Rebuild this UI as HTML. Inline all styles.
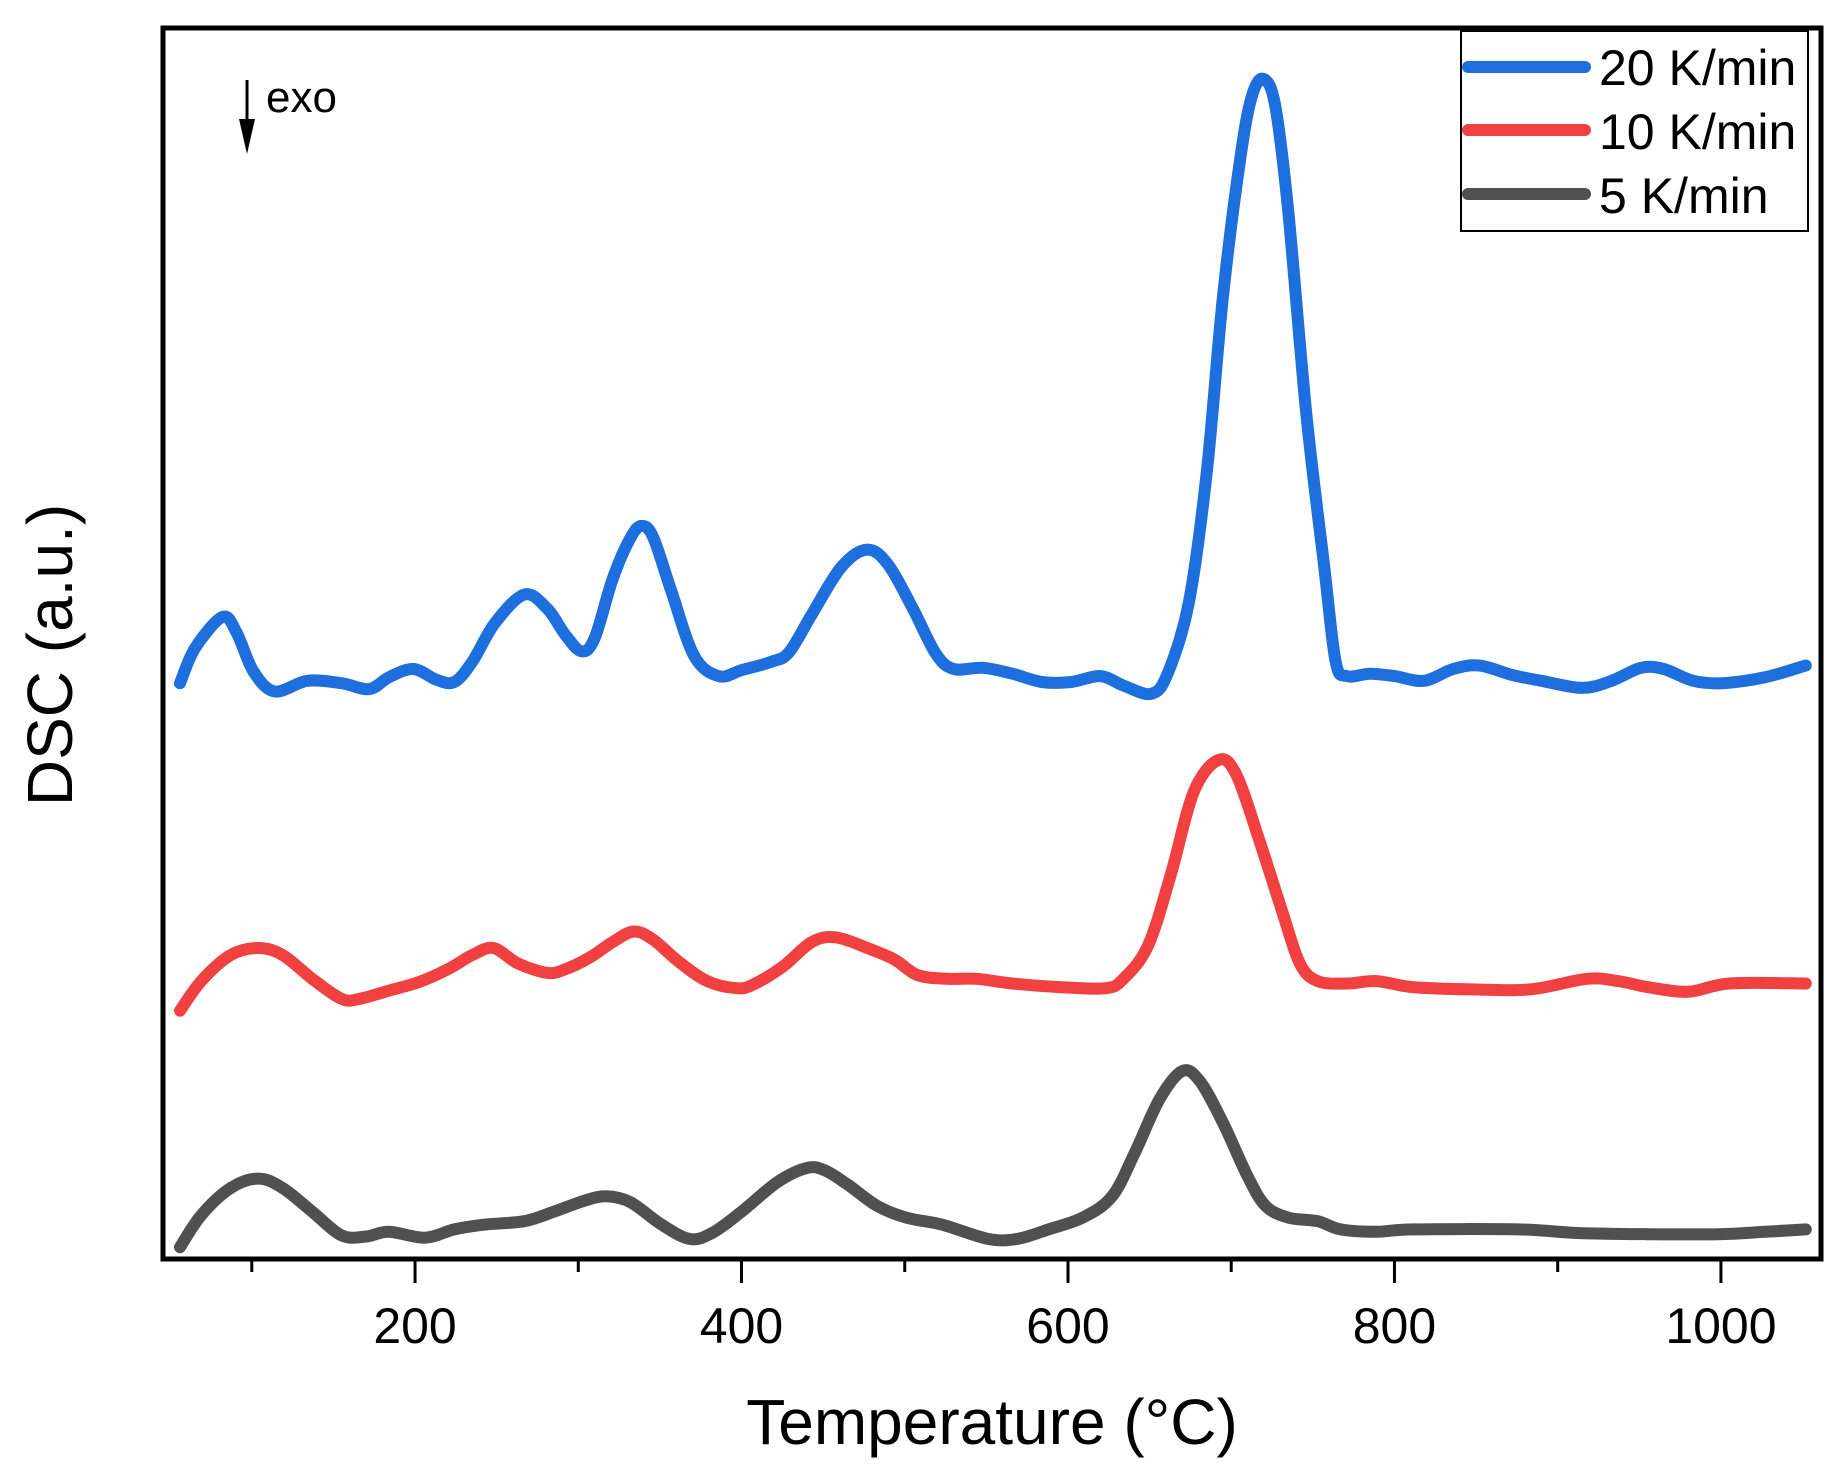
<!DOCTYPE html>
<html><head><meta charset="utf-8"><style>
html,body{margin:0;padding:0;background:#fff;}
svg{display:block;font-family:"Liberation Sans",Arial,sans-serif;}
</style></head><body>
<svg id="chart" width="1844" height="1470" viewBox="0 0 1844 1470" xmlns="http://www.w3.org/2000/svg">
<rect width="1844" height="1470" fill="#fff"/>
<g id="series"></g>
<rect x="163" y="28" width="1658" height="1231" fill="none" stroke="#000" stroke-width="5"/>
<g id="ticks"></g>
<text x="992" y="1444" font-size="64" text-anchor="middle">Temperature (°C)</text>
<text transform="translate(72,655) rotate(-90)" font-size="64" text-anchor="middle">DSC (a.u.)</text>
<g>
<line x1="247" y1="80" x2="247" y2="125" stroke="#000" stroke-width="3"/>
<polygon points="239,119 255,119 247,154" fill="#000"/>
<text x="266" y="112" font-size="44">exo</text>
</g>
<g>
<rect x="1461" y="31" width="347" height="200" fill="#fff" stroke="#000" stroke-width="2"/>
<g><line x1="1468" y1="67" x2="1585" y2="67" stroke="#1c6fdc" stroke-width="12" stroke-linecap="round"/><text x="1599" y="85" font-size="50">20 K/min</text></g>
<g><line x1="1468" y1="130" x2="1585" y2="130" stroke="#f04040" stroke-width="12" stroke-linecap="round"/><text x="1599" y="149" font-size="50">10 K/min</text></g>
<g><line x1="1468" y1="194" x2="1585" y2="194" stroke="#505050" stroke-width="12" stroke-linecap="round"/><text x="1599" y="213" font-size="50">5 K/min</text></g>
</g>
</svg>
<script>
const xTicks = [200, 400, 600, 800, 1000];
const xMinorTicks = [100, 300, 500, 700, 900];
const tBlue = [56,65.4,82,90.6,101,114,134,155,172,184,199,213,224,235,249,267,281,292,302,310,321,332,339,346,357,371,386,400,418,429,443,461,477,490,505,519,530,548,566,584,602,620,634,651,661,674,685,695,706,713,720,727,735,746,757,764,771,785,800,818,836,852,872,890,915,933,951,965,983,1001,1027,1052];
const vBlue = [48.7,51.7,54.3,53,49.7,48,48.9,48.7,48.2,49.2,49.9,49,48.8,50.5,53.8,56.2,55,52.8,51.4,52.5,57.5,61,62,61,56.5,51,49.3,49.8,50.5,51.3,54.5,58.5,60,58.7,55,51.2,49.9,50,49.5,48.8,48.8,49.3,48.5,47.8,49.5,55.5,66.5,81.5,93.5,98.5,99.8,97.5,88.5,71.5,58.5,50.5,49.3,49.5,49.3,48.9,49.9,50.2,49.4,48.9,48.3,48.9,50,49.9,48.9,48.7,49.2,50.2];
const tRed = [56,69,87,104,119,137,155,166,184,202,220,235,248,263,281,292,307,321,334,346,361,379,397,407,425,443,458,479,494,508,526,544,566,595,623,634,649,663,677,692,703,717,731,742,753,771,789,811,847,883,918,937,955,980,1005,1052];
const vRed = [21,23.5,25.7,26.3,25.7,23.7,22,22,22.7,23.4,24.5,25.7,26.3,25,24.2,24.5,25.5,26.8,27.7,27,25.2,23.5,22.9,23.2,24.7,26.8,27.2,26.2,25.3,24,23.7,23.7,23.3,23,22.9,23.7,26.5,32.5,39.5,42.2,41,35.5,29.5,25,23.5,23.3,23.5,23,22.8,22.8,23.7,23.5,23,22.6,23.3,23.3];
const tGray = [56,69,87,104,119,137,155,170,184,206,224,242,267,285,303,317,332,350,368,382,400,422,440,451,465,483,501,523,551,569,588,609,627,641,656,670,681,695,710,721,735,753,767,789,811,876,912,955,998,1027,1052];
const vGray = [1,3.7,6,6.8,6,4,2,1.9,2.3,1.8,2.5,2.9,3.2,4,4.9,5.3,4.8,3,1.7,2.2,4,6.5,7.7,7.5,6.3,4.5,3.5,2.9,1.7,1.7,2.5,3.5,5.3,9,13.5,15.9,15,11.5,7,4.5,3.5,3.2,2.5,2.3,2.5,2.5,2.2,2.1,2.1,2.3,2.5];

const NS = "http://www.w3.org/2000/svg";
const X0 = 163, X1 = 1821, T0 = 45.6, T1 = 1061.3;
const Y0 = 1259, Y1 = 27, V0 = 0, V1 = 104.2;
function xScale(t){ return X0 + (t - T0) * (X1 - X0) / (T1 - T0); }
function yScale(v){ return Y0 + (v - V0) * (Y1 - Y0) / (V1 - V0); }

function smoothPath(ts, vs){
  const p = ts.map((t,i)=>[xScale(t), yScale(vs[i])]);
  let d = "M" + p[0][0].toFixed(1) + "," + p[0][1].toFixed(1);
  for (let i = 0; i < p.length - 1; i++){
    const a = p[Math.max(0,i-1)], b = p[i], c = p[i+1], e = p[Math.min(p.length-1,i+2)];
    const c1x = b[0] + (c[0]-a[0])/6, c1y = b[1] + (c[1]-a[1])/6;
    const c2x = c[0] - (e[0]-b[0])/6, c2y = c[1] - (e[1]-b[1])/6;
    d += " C" + c1x.toFixed(1)+","+c1y.toFixed(1)+" "+c2x.toFixed(1)+","+c2y.toFixed(1)+" "+c[0].toFixed(1)+","+c[1].toFixed(1);
  }
  return d;
}
const g = document.getElementById("series");
function addSeries(ts, vs, color, name){
  const path = document.createElementNS(NS, "path");
  path.setAttribute("d", smoothPath(ts, vs));
  path.setAttribute("fill", "none");
  path.setAttribute("stroke", color);
  path.setAttribute("stroke-width", "12");
  path.setAttribute("stroke-linecap", "round");
  path.setAttribute("stroke-linejoin", "round");
  
  
  g.appendChild(path);
}
addSeries(tGray, vGray, "#505050", "series-5-kmin");
addSeries(tRed, vRed, "#f04040", "series-10-kmin");
addSeries(tBlue, vBlue, "#1c6fdc", "series-20-kmin");

const tg = document.getElementById("ticks");
xTicks.forEach(t=>{
  const x = xScale(t);
  const ln = document.createElementNS(NS, "line");
  ln.setAttribute("x1", x); ln.setAttribute("x2", x);
  ln.setAttribute("y1", 1261); ln.setAttribute("y2", 1283);
  ln.setAttribute("stroke", "#000"); ln.setAttribute("stroke-width", "3");
  
  
  tg.appendChild(ln);
  const tx = document.createElementNS(NS, "text");
  tx.setAttribute("x", x); tx.setAttribute("y", 1343);
  tx.setAttribute("font-size", "50"); tx.setAttribute("text-anchor", "middle");
  tx.textContent = t;
  
  
  tg.appendChild(tx);
});
xMinorTicks.forEach(t=>{
  const x = xScale(t);
  const ln = document.createElementNS(NS, "line");
  ln.setAttribute("x1", x); ln.setAttribute("x2", x);
  ln.setAttribute("y1", 1261); ln.setAttribute("y2", 1272);
  ln.setAttribute("stroke", "#000"); ln.setAttribute("stroke-width", "3");
  
  
  tg.appendChild(ln);
});
</script>
</body></html>
